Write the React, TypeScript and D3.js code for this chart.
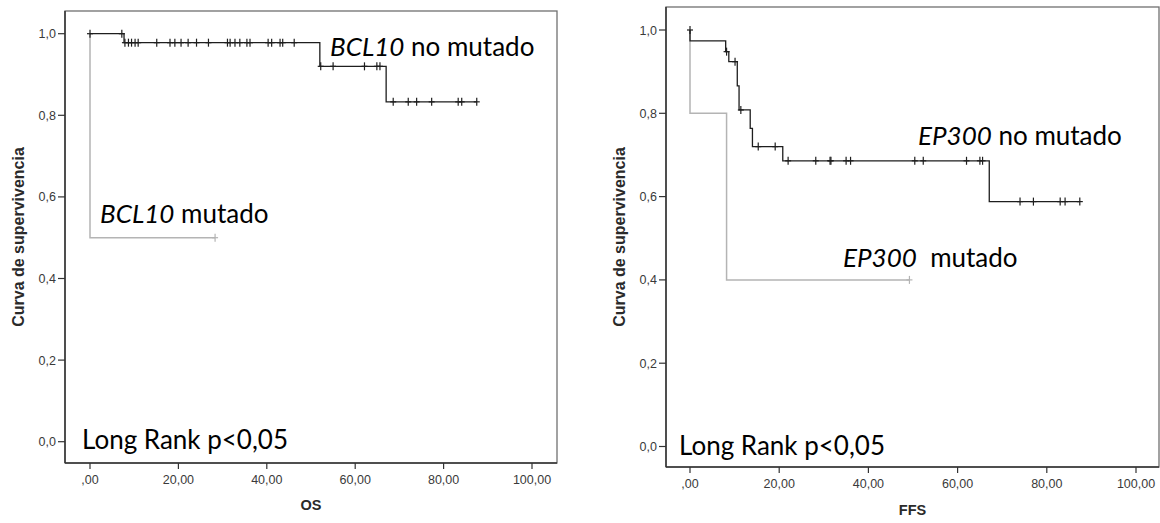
import * as d3 from "d3";

// axis ticks
const xTicks = [0, 20, 40, 60, 80, 100];
const yTicks = [0, 0.2, 0.4, 0.6, 0.8, 1.0];

// OS - BCL10 no mutado (events + censored)
const osWildTimes = [7.7, 52.0, 67.0];
const osWildSurv = [0.978, 0.92, 0.833];
const osWildCensored = [
  0, 7.2, 7.9, 8.7, 9.4, 10.2, 10.9, 15.1, 18.1, 19.2, 20.6, 22.2, 24.1, 26.8,
  31.1, 31.7, 32.8, 33.9, 35.5, 36.2, 40.3, 41.1, 43.0, 43.6, 46.2, 52.2, 55.0,
  62.1, 64.9, 65.6, 68.6, 72.0, 73.9, 77.3, 83.3, 84.1, 87.5,
];
// OS - BCL10 mutado
const osMutTimes = [0];
const osMutSurv = [0.5];
const osMutCensored = [28.3];

// FFS - EP300 no mutado
const ffsWildTimes = [0, 8.0, 8.7, 10.6, 11.0, 13.5, 14.0, 20.8, 67.1];
const ffsWildSurv = [0.974, 0.948, 0.924, 0.866, 0.808, 0.764, 0.72, 0.686, 0.588];
const ffsWildCensored = [
  0, 8.2, 10.1, 11.4, 15.3, 19.1, 22.0, 28.2, 31.4, 31.6, 35.0, 36.0, 50.4,
  52.3, 62.0, 65.0, 65.6, 74.0, 77.0, 83.0, 84.1, 87.4,
];
// FFS - EP300 mutado
const ffsMutTimes = [0, 8.2];
const ffsMutSurv = [0.8, 0.4];
const ffsMutCensored = [49.2];

const fmtX = (v: number) => (v === 0 ? ",00" : d3.format(".2f")(v).replace(".", ","));
const fmtY = (v: number) => d3.format(".1f")(v).replace(".", ",");

const ANNOT_FONT = "Lato, 'Open Sans', sans-serif";
const AXIS_FONT = "'Liberation Sans', Arial, sans-serif";

type Group = { times: number[]; surv: number[]; censored: number[]; color: string; width: number };

function survAt(g: Group, t: number) {
  let s = 1;
  g.times.forEach((et, i) => {
    if (et < t) s = g.surv[i];
  });
  return s;
}

function Curve({ g, x, y }: { g: Group; x: any; y: any }) {
  const end = Math.max(d3.max(g.censored) ?? 0, d3.max(g.times) ?? 0);
  const pts: [number, number][] = [[0, 1]];
  g.times.forEach((t, i) => pts.push([t, g.surv[i]]));
  pts.push([end, g.surv[g.surv.length - 1]]);
  const line = d3
    .line<[number, number]>()
    .x((d) => x(d[0]))
    .y((d) => y(d[1]))
    .curve(d3.curveStepAfter);
  return (
    <g>
      <path d={line(pts) ?? ""} fill="none" stroke={g.color} strokeWidth={g.width} />
      {g.censored.map((t, i) => {
        const cx = x(t);
        const cy = y(survAt(g, t));
        return (
          <g key={i} stroke={g.color} strokeWidth={1.2}>
            <line x1={cx} x2={cx} y1={cy - 4} y2={cy + 4} />
            <line x1={cx - 3} x2={cx + 3} y1={cy} y2={cy} />
          </g>
        );
      })}
    </g>
  );
}

type PanelProps = {
  frame: { x0: number; x1: number; y0: number; y1: number };
  xRange: [number, number];
  yRange: [number, number];
  groups: Group[];
  xTitle: string;
  xTitleY: number;
  tickLabelY: number;
  yTitleX: number;
  children?: any;
};

function Panel({ frame, xRange, yRange, groups, xTitle, xTitleY, tickLabelY, yTitleX, children }: PanelProps) {
  const x = d3.scaleLinear().domain([0, 100]).range(xRange);
  const y = d3.scaleLinear().domain([0, 1]).range(yRange);
  const midY = (frame.y0 + frame.y1) / 2;
  return (
    <g>
      <rect
        x={frame.x0}
        y={frame.y0}
        width={frame.x1 - frame.x0}
        height={frame.y1 - frame.y0}
        fill="#fff"
        stroke="#707070"
        strokeWidth={1.3}
      />
      <line x1={frame.x0} x2={frame.x0} y1={frame.y0} y2={frame.y1} stroke="#333" strokeWidth={1.5} />
      <line x1={frame.x0} x2={frame.x1} y1={frame.y1} y2={frame.y1} stroke="#333" strokeWidth={1.5} />
      {yTicks.map((v) => (
        <g key={v}>
          <line x1={frame.x0 - 7} x2={frame.x0} y1={y(v)} y2={y(v)} stroke="#333" strokeWidth={1.2} />
          <text
            x={frame.x0 - 9}
            y={y(v) + 4.5}
            textAnchor="end"
            fontFamily={AXIS_FONT}
            fontSize={12.5}
            fill="#3a3a3a"
          >
            {fmtY(v)}
          </text>
        </g>
      ))}
      {xTicks.map((v) => (
        <g key={v}>
          <line x1={x(v)} x2={x(v)} y1={frame.y1} y2={frame.y1 + 6} stroke="#333" strokeWidth={1.2} />
          <text x={x(v)} y={tickLabelY} textAnchor="middle" fontFamily={AXIS_FONT} fontSize={12.5} fill="#3a3a3a">
            {fmtX(v)}
          </text>
        </g>
      ))}
      <text
        x={(frame.x0 + frame.x1) / 2}
        y={xTitleY}
        textAnchor="middle"
        fontFamily={AXIS_FONT}
        fontWeight="bold"
        fontSize={14.5}
        fill="#2a2a2a"
      >
        {xTitle}
      </text>
      <text
        transform={`translate(${yTitleX},${midY}) rotate(-90)`}
        textAnchor="middle"
        fontFamily={AXIS_FONT}
        fontWeight="bold"
        fontSize={16}
        fill="#2a2a2a"
      >
        Curva de supervivencia
      </text>
      {groups.map((g, i) => (
        <Curve key={i} g={g} x={x} y={y} />
      ))}
      {children}
    </g>
  );
}

function Label({ x, y, gene, rest }: { x: number; y: number; gene: string; rest: string }) {
  return (
    <text x={x} y={y} fontFamily={ANNOT_FONT} fontSize={26} fill="#000" style={{ whiteSpace: "pre" }}>
      <tspan fontStyle="italic">{gene}</tspan>
      {rest}
    </text>
  );
}

export default function App() {
  const gray = "#b4b4b4";
  const black = "#1e1e1e";
  return (
    <svg
      width={1160}
      height={523}
      style={{ position: "absolute", left: 0, top: 0, display: "block", background: "#fff" }}
    >
      <Panel
        frame={{ x0: 65, x1: 557, y0: 11, y1: 463 }}
        xRange={[90, 532]}
        yRange={[441.7, 33.7]}
        xTitle="OS"
        xTitleY={510}
        tickLabelY={484}
        yTitleX={24}
        groups={[
          { times: osMutTimes, surv: osMutSurv, censored: osMutCensored, color: gray, width: 1.5 },
          { times: osWildTimes, surv: osWildSurv, censored: osWildCensored, color: black, width: 1.3 },
        ]}
      >
        <Label x={330} y={56} gene="BCL10" rest=" no mutado" />
        <Label x={100} y={223} gene="BCL10" rest=" mutado" />
        <text x={82} y={449} fontFamily={ANNOT_FONT} fontSize={26} fill="#000">
          Long Rank p&lt;0,05
        </text>
      </Panel>
      <Panel
        frame={{ x0: 666, x1: 1159, y0: 7, y1: 467 }}
        xRange={[690, 1136]}
        yRange={[446.5, 30]}
        xTitle="FFS"
        xTitleY={515}
        tickLabelY={488}
        yTitleX={625}
        groups={[
          { times: ffsMutTimes, surv: ffsMutSurv, censored: ffsMutCensored, color: gray, width: 1.5 },
          { times: ffsWildTimes, surv: ffsWildSurv, censored: ffsWildCensored, color: black, width: 1.3 },
        ]}
      >
        <Label x={918} y={145} gene="EP300" rest=" no mutado" />
        <Label x={843} y={267} gene="EP300" rest="  mutado" />
        <text x={679} y={455} fontFamily={ANNOT_FONT} fontSize={26} fill="#000">
          Long Rank p&lt;0,05
        </text>
      </Panel>
    </svg>
  );
}
